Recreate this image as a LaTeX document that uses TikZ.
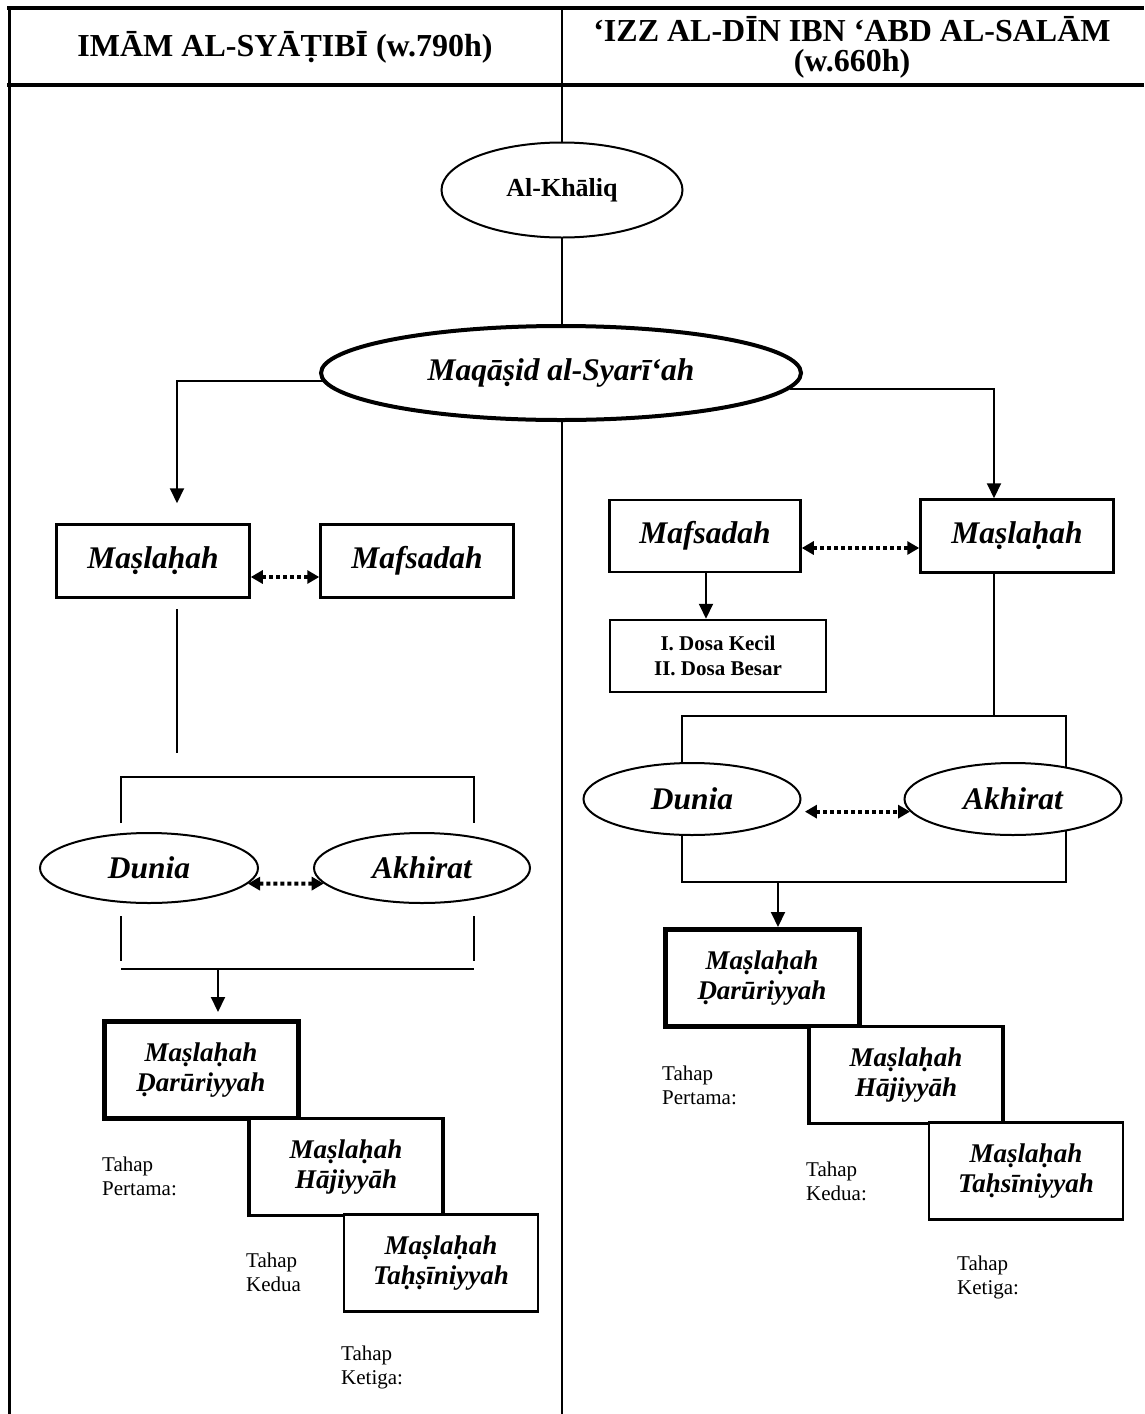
\documentclass[tikz,border=0pt]{standalone}
\usepackage{fontspec}
\setmainfont{Liberation Serif}
\usetikzlibrary{shapes.geometric}
\usetikzlibrary{arrows.meta}
\tikzset{mline/.style={line width=2pt}}
\tikzset{marrow/.style={mline,-{Triangle[length=15pt,width=14pt]}}}
\tikzset{mdots/.style={line width=4pt,dash pattern=on 4pt off 3pt,{Triangle[length=12pt,width=13pt]}-{Triangle[length=12pt,width=13pt]}}}
\tikzset{mbox/.style={draw,line width=2.5pt,fill=white,inner sep=0pt,align=center,font=\fontsize{31.5}{30}\selectfont\bfseries\itshape}}
\tikzset{mstep/.style={mbox,font=\fontsize{27}{30}\selectfont\bfseries\itshape,minimum width=194pt,minimum height=97pt}}
\tikzset{mell/.style={draw,ellipse,line width=2pt,fill=white,inner sep=0pt,font=\fontsize{31.5}{30}\selectfont\bfseries\itshape}}
\tikzset{mtahap/.style={anchor=west,align=left,inner sep=0pt,font=\fontsize{21}{24}\selectfont}}
\tikzset{mhead/.style={align=center,font=\fontsize{32}{30}\selectfont\bfseries}}
\begin{document}
\begin{tikzpicture}[x=1pt,y=-1pt]
\useasboundingbox (0,0) rectangle (1144,1414);
\draw[line width=4pt] (7,8) -- (1144,8);
\draw[line width=4pt] (7,85) -- (1144,85);
\draw[line width=3pt] (9,6) -- (9,1414);
\draw[line width=2.5pt] (562,8) -- (562,1414);
\node[mhead] (hL) at (285,47) {IMĀM AL-SYĀṬIBĪ (w.790h)};
\node[mhead] (hR) at (852,47) {‘IZZ AL-DĪN IBN ‘ABD AL-SALĀM\\(w.660h)};

\node[mell,minimum width=241pt,minimum height=95pt,font=\fontsize{26}{30}\selectfont\bfseries] (khl) at (562,190) {Al-Khāliq};
\node[mell,line width=4pt,minimum width=480pt,minimum height=94pt] (maq) at (561,373) {Maqāṣid al-Syarī‘ah};

% kiri: al-Syatibi
\node[mbox,minimum width=193pt,minimum height=73pt] (mslL) at (153,561) {Maṣlaḥah};
\node[mbox,minimum width=193pt,minimum height=73pt] (mfsL) at (417,561) {Mafsadah};
\draw[marrow,shorten >=20pt] (maq.182) -| ([xshift=24pt]mslL.north);
\draw[mdots] ([yshift=-16pt]mslL.east) -- ([yshift=-16pt]mfsL.west);
\coordinate (lnA) at (177,609);
\coordinate (lnB) at (177,753);
\draw[mline] (lnA) -- (lnB);

\coordinate (btL) at (121,777);
\coordinate (btR) at (474,777);
\draw[mline] (121,823) -- (btL) -- (btR) -- (474,823);
\node[mell,minimum width=218pt,minimum height=70pt] (dnL) at (149,868) {Dunia};
\node[mell,minimum width=216pt,minimum height=70pt] (akL) at (422,868) {Akhirat};
\draw[mdots] (dnL.-9) -- (akL.189);
\draw[mline] (121,916) -- (121,961);
\draw[mline] (474,916) -- (474,961);
\coordinate (bbL) at (218,969);
\draw[mline] (121,969) -- (474,969);

\node[mstep,line width=5pt] (dzL) at (201,1070) {Maṣlaḥah\\Ḍarūriyyah};
\node[mstep,line width=3.5pt] (hjL) at (346,1167) {Maṣlaḥah\\Hājiyyāh};
\node[mstep] (thL) at (441,1263) {Maṣlaḥah\\Taḥṣīniyyah};
\draw[marrow,shorten >=7pt] (bbL) -- ([xshift=17pt]dzL.north);
\node[mtahap] (t1L) at (102,1176) {Tahap\\Pertama:};
\node[mtahap] (t2L) at (246,1272) {Tahap\\Kedua};
\node[mtahap] (t3L) at (341,1367) {Tahap\\Ketiga:};

% kanan: Izz al-Din
\draw[mline] (682,716) rectangle (1066,882);
\node[mbox,minimum width=191pt,minimum height=72pt] (mfsR) at (705,536) {Mafsadah};
\node[mbox,minimum width=193pt,minimum height=73pt] (mslR) at (1017,536) {Maṣlaḥah};
\node[mbox,minimum width=216pt,minimum height=72pt,font=\fontsize{21}{25}\selectfont\bfseries] (dsR) at (718,656) {I. Dosa Kecil\\II. Dosa Besar};
\draw[marrow] (maq.-4) -| ([xshift=-23pt]mslR.north);
\draw[mdots] ([yshift=-12pt]mfsR.east) -- ([yshift=-12pt]mslR.west);
\draw[marrow] ([xshift=1pt]mfsR.south) -- ([xshift=1pt]mfsR.south |- dsR.north);
\coordinate (btM) at (994,716);
\draw[mline] ([xshift=-23pt]mslR.south) -- (btM);
\node[mell,minimum width=217pt,minimum height=72pt] (dnR) at (692,799) {Dunia};
\node[mell,minimum width=217pt,minimum height=72pt] (akR) at (1013,799) {Akhirat};
\draw[mdots,shorten <=10pt] (dnR.-7) -- (akR.187);

\coordinate (bbR) at (778,882);
\node[mstep,line width=5pt] (dzR) at (762,978) {Maṣlaḥah\\Ḍarūriyyah};
\node[mstep,line width=3.5pt] (hjR) at (906,1075) {Maṣlaḥah\\Hājiyyāh};
\node[mstep] (thR) at (1026,1171) {Maṣlaḥah\\Taḥsīniyyah};
\draw[marrow] (bbR) -- ([xshift=16pt]dzR.north);
\node[mtahap] (t1R) at (662,1085) {Tahap\\Pertama:};
\node[mtahap] (t2R) at (806,1181) {Tahap\\Kedua:};
\node[mtahap] (t3R) at (957,1277) {Tahap\\Ketiga:};
\end{tikzpicture}
\end{document}
